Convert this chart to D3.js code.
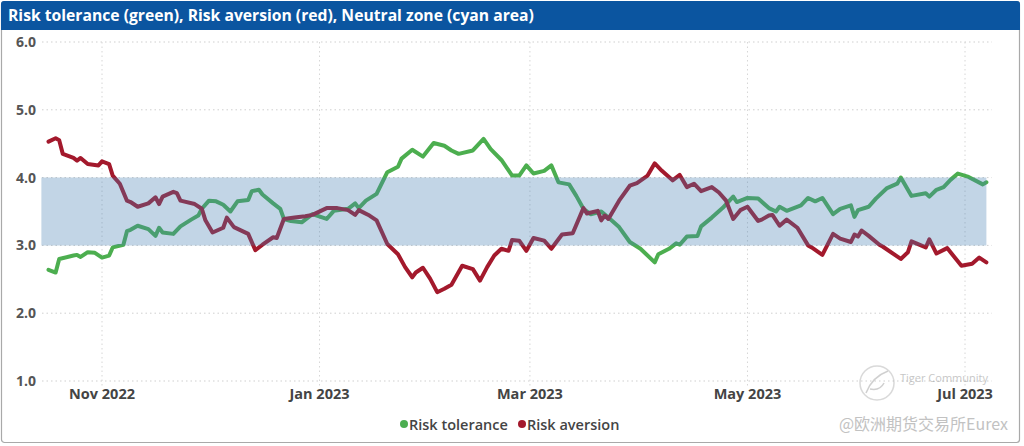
<!DOCTYPE html>
<html>
<head>
<meta charset="utf-8">
<script src="https://cdn.jsdelivr.net/npm/d3@7"></script>
<style>
  html, body { margin: 0; padding: 0; background: #fff; }
  svg { display: block; }
</style>
</head>
<body>
<svg id="chart" width="1024" height="446"></svg>
<script>
// ---------------- DATA ----------------
const chartTitle = "Risk tolerance (green), Risk aversion (red), Neutral zone (cyan area)";
const seriesNames = ["Risk tolerance", "Risk aversion"];
const yTickValues = [1, 2, 3, 4, 5, 6];
const xTickDates = ["2022-11-01", "2023-01-01", "2023-03-01", "2023-05-01", "2023-07-01"];
const neutralDates = ["2022-10-15", "2023-07-07"];
const neutralLower = [3, 3];
const neutralUpper = [4, 4];

const toleranceDates = ["2022-10-17","2022-10-19","2022-10-20","2022-10-24","2022-10-25","2022-10-26","2022-10-28","2022-10-30","2022-11-01","2022-11-03",
  "2022-11-04","2022-11-07","2022-11-08","2022-11-09","2022-11-11","2022-11-14","2022-11-16","2022-11-17","2022-11-18","2022-11-21",
  "2022-11-23","2022-11-26","2022-11-28","2022-11-29","2022-12-01","2022-12-03","2022-12-05","2022-12-07","2022-12-09","2022-12-12",
  "2022-12-13","2022-12-15","2022-12-16","2022-12-19","2022-12-21","2022-12-22","2022-12-24","2022-12-27","2022-12-30","2023-01-03",
  "2023-01-05","2023-01-09","2023-01-11","2023-01-12","2023-01-14","2023-01-17","2023-01-20","2023-01-23","2023-01-24","2023-01-27",
  "2023-01-30","2023-02-02","2023-02-05","2023-02-07","2023-02-09","2023-02-13","2023-02-16","2023-02-18","2023-02-21","2023-02-24",
  "2023-02-26","2023-02-28","2023-03-02","2023-03-05","2023-03-07","2023-03-09","2023-03-12","2023-03-14","2023-03-16","2023-03-18",
  "2023-03-21","2023-03-23","2023-03-26","2023-03-29","2023-04-01","2023-04-05","2023-04-06","2023-04-09","2023-04-11","2023-04-12",
  "2023-04-14","2023-04-17","2023-04-18","2023-04-21","2023-04-24","2023-04-27","2023-04-28","2023-05-01","2023-05-04","2023-05-07",
  "2023-05-09","2023-05-10","2023-05-12","2023-05-16","2023-05-18","2023-05-20","2023-05-22","2023-05-25","2023-05-27","2023-05-30",
  "2023-05-31","2023-06-01","2023-06-04","2023-06-06","2023-06-09","2023-06-12","2023-06-13","2023-06-16","2023-06-20","2023-06-21",
  "2023-06-23","2023-06-25","2023-06-27","2023-06-29","2023-07-02","2023-07-06","2023-07-07"];
const toleranceValues = [2.64,2.60,2.80,2.85,2.86,2.83,2.90,2.89,2.82,2.85,
  2.97,3.01,3.21,3.23,3.29,3.24,3.14,3.26,3.19,3.17,
  3.28,3.38,3.44,3.54,3.66,3.65,3.60,3.50,3.65,3.67,
  3.80,3.82,3.75,3.62,3.54,3.39,3.36,3.34,3.46,3.39,
  3.51,3.54,3.62,3.55,3.66,3.76,4.08,4.16,4.28,4.41,
  4.31,4.51,4.47,4.40,4.35,4.40,4.57,4.42,4.26,4.03,
  4.03,4.18,4.06,4.10,4.18,3.93,3.90,3.73,3.54,3.46,
  3.50,3.41,3.27,3.05,2.95,2.75,2.87,2.95,3.03,3.01,
  3.13,3.14,3.28,3.41,3.55,3.72,3.64,3.70,3.69,3.55,
  3.50,3.57,3.51,3.59,3.70,3.65,3.70,3.46,3.54,3.59,
  3.42,3.52,3.57,3.69,3.84,3.91,4.00,3.73,3.77,3.72,
  3.82,3.86,3.97,4.06,4.01,3.90,3.93];

const aversionDates = ["2022-10-17","2022-10-19","2022-10-20","2022-10-21","2022-10-24","2022-10-25","2022-10-26","2022-10-28","2022-10-31","2022-11-01",
  "2022-11-03","2022-11-04","2022-11-06","2022-11-08","2022-11-09","2022-11-11","2022-11-14","2022-11-16","2022-11-17","2022-11-18",
  "2022-11-21","2022-11-22","2022-11-23","2022-11-27","2022-11-29","2022-11-30","2022-12-02","2022-12-05","2022-12-06","2022-12-08",
  "2022-12-12","2022-12-14","2022-12-16","2022-12-19","2022-12-20","2022-12-22","2022-12-25","2022-12-28","2022-12-30","2023-01-03",
  "2023-01-06","2023-01-09","2023-01-11","2023-01-12","2023-01-15","2023-01-17","2023-01-20","2023-01-23","2023-01-25","2023-01-27",
  "2023-01-28","2023-01-30","2023-02-01","2023-02-03","2023-02-05","2023-02-07","2023-02-10","2023-02-13","2023-02-15","2023-02-17",
  "2023-02-19","2023-02-21","2023-02-23","2023-02-24","2023-02-26","2023-02-28","2023-03-02","2023-03-05","2023-03-07","2023-03-10",
  "2023-03-13","2023-03-16","2023-03-17","2023-03-20","2023-03-21","2023-03-22","2023-03-23","2023-03-26","2023-03-29","2023-03-31",
  "2023-04-03","2023-04-05","2023-04-07","2023-04-10","2023-04-12","2023-04-14","2023-04-16","2023-04-18","2023-04-21","2023-04-23",
  "2023-04-25","2023-04-27","2023-04-29","2023-05-01","2023-05-04","2023-05-05","2023-05-07","2023-05-08","2023-05-10","2023-05-12",
  "2023-05-15","2023-05-18","2023-05-19","2023-05-22","2023-05-25","2023-05-27","2023-05-30","2023-05-31","2023-06-01","2023-06-02",
  "2023-06-04","2023-06-07","2023-06-08","2023-06-13","2023-06-15","2023-06-16","2023-06-20","2023-06-21","2023-06-23","2023-06-26",
  "2023-06-30","2023-07-03","2023-07-05","2023-07-07"];
const aversionValues = [4.53,4.58,4.55,4.35,4.29,4.25,4.29,4.20,4.18,4.24,
  4.20,4.03,3.91,3.66,3.64,3.57,3.62,3.71,3.61,3.72,
  3.79,3.77,3.66,3.61,3.54,3.37,3.19,3.26,3.41,3.27,
  3.17,2.93,3.01,3.12,3.11,3.39,3.41,3.43,3.45,3.55,
  3.55,3.52,3.45,3.52,3.44,3.37,3.02,2.87,2.68,2.53,
  2.60,2.67,2.51,2.31,2.36,2.42,2.70,2.65,2.48,2.68,
  2.85,2.95,2.92,3.08,3.07,2.92,3.11,3.07,2.95,3.16,
  3.18,3.55,3.47,3.51,3.37,3.44,3.39,3.66,3.88,3.92,
  4.03,4.21,4.10,3.96,4.04,3.86,3.91,3.80,3.86,3.78,
  3.66,3.39,3.52,3.57,3.36,3.38,3.44,3.45,3.29,3.38,
  3.26,3.00,2.97,2.86,3.17,3.10,3.05,3.16,3.13,3.22,
  3.14,3.01,2.98,2.80,2.90,3.06,2.97,3.09,2.88,2.96,
  2.70,2.73,2.82,2.75];

// ---------------- DRAW ----------------
const parse = d3.timeParse("%Y-%m-%d");
const svg = d3.select("#chart");
const FONT = "'Open Sans', 'Noto Sans', sans-serif";

const x = d3.scaleTime()
  .domain([parse("2022-11-01"), parse("2023-07-01")])
  .range([102, 965]);
const y = d3.scaleLinear().domain([1, 6]).range([381, 42]);

const plotLeft = 42, plotRight = 992, plotTop = 42, plotBottom = 386;

// frame
svg.append("rect")
  .attr("x", 1.5).attr("y", 1.5).attr("width", 1018).attr("height", 441)
  .attr("rx", 3).attr("fill", "#fff").attr("stroke", "#a9a9a9").attr("stroke-width", 1.2);

// title bar (rounded top corners)
svg.append("path")
  .attr("d", "M1,30 L1,4 Q1,1 4,1 L1017,1 Q1020,1 1020,4 L1020,30 Z")
  .attr("fill", "#0b55a0");
svg.append("text")
  .attr("x", 8).attr("y", 21)
  .attr("fill", "#fff")
  .attr("font-family", FONT)
  .attr("font-weight", 700)
  .attr("font-size", "15.7px")
  .text(chartTitle);

// gridlines
const grid = svg.append("g");
grid.selectAll("line.h").data(yTickValues).join("line")
  .attr("x1", plotLeft).attr("x2", plotRight)
  .attr("y1", d => y(d)).attr("y2", d => y(d))
  .attr("stroke", "#cfcfcf").attr("stroke-width", 1)
  .attr("stroke-dasharray", "1.5,3");
grid.selectAll("line.v").data(xTickDates).join("line")
  .attr("x1", d => x(parse(d))).attr("x2", d => x(parse(d)))
  .attr("y1", plotTop).attr("y2", plotBottom)
  .attr("stroke", "#d6d6d6").attr("stroke-width", 1)
  .attr("stroke-dasharray", "1.5,3");

// lines
const line = d3.line().x(d => x(d.date)).y(d => y(d.value));
const tolData = toleranceDates.map((d, i) => ({ date: parse(d), value: toleranceValues[i] }));
const avData = aversionDates.map((d, i) => ({ date: parse(d), value: aversionValues[i] }));

const colors = ["#4cae4f", "#a3192c"];

svg.append("path").datum(tolData)
  .attr("d", line).attr("fill", "none")
  .attr("stroke", colors[0]).attr("stroke-width", 4)
  .attr("stroke-linejoin", "round").attr("stroke-linecap", "round");
svg.append("path").datum(avData)
  .attr("d", line).attr("fill", "none")
  .attr("stroke", colors[1]).attr("stroke-width", 4)
  .attr("stroke-linejoin", "round").attr("stroke-linecap", "round");

// neutral zone band overlay
const bandData = neutralDates.map((d, i) => ({ date: parse(d), lo: neutralLower[i], hi: neutralUpper[i] }));
const area = d3.area().x(d => x(d.date)).y0(d => y(d.lo)).y1(d => y(d.hi));
svg.append("path").datum(bandData)
  .attr("d", area)
  .attr("fill", "rgb(70,128,180)").attr("fill-opacity", 0.33);

// y axis labels
svg.append("g").selectAll("text").data(yTickValues).join("text")
  .attr("x", 36).attr("y", d => y(d) + 5)
  .attr("text-anchor", "end")
  .attr("fill", "#555")
  .attr("font-family", FONT).attr("font-weight", 700).attr("font-size", "14px")
  .text(d => d3.format(".1f")(d));

// x axis labels
const fmt = d3.timeFormat("%b %Y");
svg.append("g").selectAll("text").data(xTickDates).join("text")
  .attr("x", d => x(parse(d))).attr("y", 399)
  .attr("text-anchor", "middle")
  .attr("fill", "#444")
  .attr("font-family", FONT).attr("font-weight", 700).attr("font-size", "14.5px")
  .text(d => fmt(parse(d)));

// legend
const legend = svg.append("g").attr("font-family", FONT).attr("font-weight", 600).attr("font-size", "14.5px");
const legendX = [404, 522];
seriesNames.forEach((name, i) => {
  legend.append("circle").attr("cx", legendX[i]).attr("cy", 424).attr("r", 4).attr("fill", colors[i]);
  legend.append("text").attr("x", legendX[i] + 5).attr("y", 429.5).attr("fill", "#444").text(name);
});

// watermark
const wm = svg.append("g").attr("opacity", 0.55);
wm.append("circle").attr("cx", 877).attr("cy", 383).attr("r", 17)
  .attr("fill", "none").attr("stroke", "#bbb").attr("stroke-width", 1.5);
wm.append("path").attr("d", "M866,393 Q872,377 888,371 M870,389 Q880,391 884,383")
  .attr("fill", "none").attr("stroke", "#aaa").attr("stroke-width", 1.5);
wm.append("text").attr("x", 900).attr("y", 382)
  .attr("fill", "#999").attr("font-family", FONT).attr("font-size", "11px").text("Tiger Community");
svg.append("text").attr("x", 1008).attr("y", 430).attr("text-anchor", "end")
  .attr("fill", "#c2c2c2").attr("font-family", "'Noto Sans CJK SC', 'Noto Sans', sans-serif")
  .attr("font-size", "16px").text("@欧洲期货交易所Eurex");
</script>
</body>
</html>
